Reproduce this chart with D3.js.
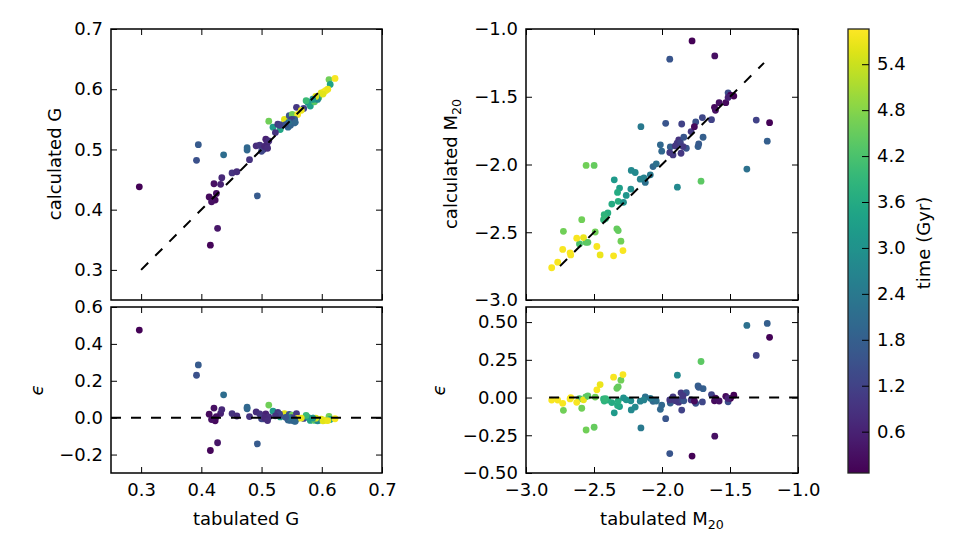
<!DOCTYPE html>
<html>
<head>
<meta charset="utf-8">
<script src="https://d3js.org/d3.v7.min.js"></script>
<style>
body { margin: 0; background: #fff; }
svg text { font-family: "DejaVu Sans", sans-serif; }
</style>
</head>
<body>
<svg id="chart" width="955" height="554"></svg>
<script>
// gini coefficient: tabulated, calculated, relative error, time (Gyr)
var gTab = [0.297,0.395,0.392,0.437,0.421,0.432,0.434,0.413,0.420,0.425,0.423,0.417,0.415,0.427,0.451,0.459,0.480,0.476,0.476,0.493,
  0.491,0.497,0.503,0.507,0.509,0.512,0.501,0.500,0.505,0.510,
  0.512,0.519,0.531,0.527,0.534,0.544,0.538,0.546,0.551,0.554,0.558,0.560,0.555,0.570,0.577,0.581,0.574,0.586,0.588,0.599,0.604,0.607,0.595,0.612,0.614,0.622,0.593,0.550,
  0.548,0.556,0.545,0.566,0.590,0.602,0.610,0.585,0.540,0.530,0.523];
var gCalc = [0.438,0.508,0.482,0.491,0.443,0.442,0.453,0.421,0.417,0.427,0.416,0.413,0.341,0.369,0.461,0.463,0.483,0.503,0.499,0.423,
  0.506,0.507,0.500,0.517,0.510,0.514,0.503,0.497,0.505,0.502,
  0.547,0.537,0.533,0.542,0.541,0.537,0.550,0.556,0.558,0.544,0.570,0.558,0.550,0.568,0.578,0.572,0.581,0.584,0.579,0.594,0.596,0.598,0.586,0.616,0.608,0.618,0.583,0.550,
  0.540,0.545,0.545,0.565,0.588,0.592,0.600,0.583,0.541,0.540,0.528];
var gEps = [0.475,0.286,0.230,0.124,0.052,0.023,0.044,0.019,-0.007,0.005,-0.017,-0.010,-0.178,-0.136,0.022,0.009,0.006,0.057,0.048,-0.142,
  0.031,0.020,-0.006,0.020,0.002,0.004,0.004,-0.006,0.000,-0.016,
  0.068,0.035,0.004,0.028,0.013,-0.013,0.022,0.018,0.013,-0.018,0.022,-0.004,-0.009,-0.004,0.002,-0.015,0.012,-0.003,-0.015,-0.008,-0.013,-0.015,-0.015,0.007,-0.010,-0.006,-0.017,0.000,
  -0.015,-0.020,0.000,-0.002,-0.003,-0.017,-0.016,-0.003,0.002,0.019,0.010];
var gTime = [0.1,1.7,1.5,2.1,0.3,0.6,0.7,0.2,0.2,0.3,0.2,0.3,0.15,0.4,0.9,0.8,0.9,2.0,2.0,1.7,
  0.8,0.9,1.0,0.6,0.7,0.8,0.9,1.3,0.7,0.8,
  4.6,3.2,3.5,1.0,1.4,2.0,5.6,1.6,4.6,2.0,1.0,5.8,1.8,1.2,3.0,3.4,4.0,2.2,4.4,5.6,5.7,5.8,4.4,4.6,3.4,5.8,2.8,1.1,
  1.9,2.0,2.2,5.7,5.5,5.6,5.7,3.2,1.6,1.2,0.9];

// M20: tabulated, calculated, relative error, time (Gyr)
var mTab = [-1.779,-1.612,-1.943,-1.209,-1.307,-1.226,-1.376,-2.155,-1.973,-1.855,
  -1.752,-1.703,-1.636,-1.698,-1.735,-1.730,-2.012,-2.002,-1.939,-1.943,
  -1.919,-1.877,-1.889,-1.865,-1.840,-1.860,-1.821,-1.786,-1.762,-1.845,
  -1.902,-1.614,-1.607,-1.580,-1.531,-1.514,-1.496,-1.472,-1.514,-2.066,
  -2.042,-2.086,-2.123,-2.160,-2.197,-2.226,-2.133,-1.887,-1.713,-2.351,
  -2.312,-2.229,-2.263,-2.327,-2.322,-2.283,-2.369,-2.398,-2.425,-2.430,
  -2.415,-2.558,-2.499,-2.590,-2.725,-2.491,-2.332,-2.322,-2.302,-2.560,
  -2.607,-2.627,-2.577,-2.545,-2.730,-2.676,-2.671,-2.767,-2.811,-2.479,
  -2.455,-2.356,-2.287];
var mCalc = [-1.088,-1.199,-1.223,-1.691,-1.672,-1.828,-2.034,-1.721,-1.696,-1.701,
  -1.686,-1.654,-1.669,-1.799,-1.868,-1.848,-1.855,-1.902,-1.870,-1.912,
  -1.929,-1.819,-1.843,-1.838,-1.799,-1.917,-1.880,-1.757,-1.721,-1.868,
  -1.863,-1.578,-1.600,-1.544,-1.544,-1.471,-1.488,-1.495,-1.505,-2.015,
  -1.995,-2.076,-2.132,-2.108,-2.059,-2.044,-2.098,-2.167,-2.123,-2.113,
  -2.174,-2.181,-2.228,-2.206,-2.272,-2.279,-2.292,-2.358,-2.370,-2.407,
  -2.398,-2.007,-2.007,-2.407,-2.493,-2.498,-2.475,-2.488,-2.566,-2.574,
  -2.586,-2.544,-2.539,-2.574,-2.627,-2.652,-2.667,-2.721,-2.762,-2.605,
  -2.667,-2.674,-2.635];
var mEps = [-0.388,-0.256,-0.371,0.399,0.279,0.491,0.478,-0.201,-0.140,-0.083,
  -0.038,-0.029,0.020,0.059,0.077,0.068,-0.078,-0.050,-0.036,-0.016,
  0.005,-0.031,-0.024,-0.014,-0.022,0.031,0.032,-0.016,-0.023,0.012,
  -0.021,-0.022,-0.004,-0.023,0.008,-0.028,-0.005,0.016,-0.006,-0.025,
  -0.023,-0.005,0.004,-0.024,-0.063,-0.082,-0.016,0.148,0.239,-0.101,
  -0.060,-0.022,-0.015,-0.052,-0.022,-0.002,-0.033,-0.017,-0.023,-0.009,
  -0.007,-0.215,-0.197,-0.071,-0.085,0.003,0.061,0.071,0.115,0.005,
  -0.008,-0.032,-0.015,0.011,-0.038,-0.009,-0.001,-0.017,-0.017,0.051,
  0.086,0.135,0.152];
var mTime = [0.1,0.3,1.6,0.1,1.2,1.8,2.2,2.4,1.6,1.2,
  1.5,1.3,1.2,1.8,1.8,1.7,2.0,2.0,1.8,1.0,
  1.0,0.9,1.0,1.2,1.6,1.0,1.6,1.0,0.2,1.0,
  1.0,0.2,0.3,0.3,0.2,1.4,0.1,0.1,0.6,2.0,
  2.2,2.4,2.2,2.6,2.8,2.8,2.6,2.8,4.4,3.2,
  3.3,2.9,3.1,3.6,3.7,3.0,3.6,3.7,3.8,3.8,
  3.9,4.6,4.5,4.6,4.6,4.6,4.5,4.5,4.6,4.4,
  4.2,5.8,5.7,4.4,5.8,5.8,5.8,5.8,5.8,5.8,
  5.7,5.8,5.8];

// ticks, ranges and reference lines
var gTicks = [0.3, 0.4, 0.5, 0.6, 0.7];
var gEpsTicks = [-0.2, 0.0, 0.2, 0.4, 0.6];
var mTicks = [-3.0, -2.5, -2.0, -1.5, -1.0];
var mEpsTicks = [-0.5, -0.25, 0.0, 0.25, 0.5];
var timeTicks = [0.6, 1.2, 1.8, 2.4, 3.0, 3.6, 4.2, 4.8, 5.4];
var timeRange = [0.06, 5.86];
var gDiag = [0.3, 0.6];
var mDiag = [-2.75, -1.25];
var gZero = [0.25, 0.7];
var mZero = [-2.83, -1.0];

var svg = d3.select("#chart");
var color = d3.scaleSequential(d3.interpolateViridis).domain(timeRange);
var noLabel = function() { return ""; };

function panel(o) {
  var x = d3.scaleLinear().domain(o.xDomain).range([o.left, o.right]);
  var y = d3.scaleLinear().domain(o.yDomain).range([o.bottom, o.top]);

  svg.append("clipPath").attr("id", o.id)
    .append("rect")
    .attr("x", o.left).attr("y", o.top)
    .attr("width", o.right - o.left).attr("height", o.bottom - o.top);

  var pts = o.xs.map(function(v, i) { return {x: v, y: o.ys[i], t: o.ts[i]}; });

  var g = svg.append("g").attr("clip-path", "url(#" + o.id + ")");
  g.selectAll("circle")
    .data(pts)
    .enter()
    .append("circle")
    .attr("cx", function(d) { return x(d.x); })
    .attr("cy", function(d) { return y(d.y); })
    .attr("r", 3.4)
    .attr("fill", function(d) { return color(d.t); });

  // dashed reference line
  g.append("line")
    .attr("x1", x(o.line[0][0])).attr("y1", y(o.line[0][1]))
    .attr("x2", x(o.line[1][0])).attr("y2", y(o.line[1][1]))
    .attr("stroke", "#000")
    .attr("stroke-width", 2)
    .attr("stroke-dasharray", "10,10");

  // axes, ticks pointing inwards on all four sides
  var axes = [
    [d3.axisBottom(x).tickValues(o.xTicks).tickFormat(o.showX ? d3.format(".1f") : noLabel).tickPadding(10), "translate(0," + o.bottom + ")"],
    [d3.axisTop(x).tickValues(o.xTicks).tickFormat(noLabel), "translate(0," + o.top + ")"],
    [d3.axisLeft(y).tickValues(o.yTicks).tickFormat(d3.format(o.yFmt)).tickPadding(8), "translate(" + o.left + ",0)"],
    [d3.axisRight(y).tickValues(o.yTicks).tickFormat(noLabel), "translate(" + o.right + ",0)"]
  ];
  axes.forEach(function(a) {
    var ax = svg.append("g")
      .attr("transform", a[1])
      .call(a[0].tickSize(-6));
    ax.select(".domain").remove();
    ax.selectAll("line").attr("stroke", "#000").attr("stroke-width", 1);
    ax.selectAll("text")
      .style("font-size", "18px")
      .style("font-family", "DejaVu Sans, sans-serif")
      .attr("fill", "#000");
  });

  svg.append("rect")
    .attr("x", o.left).attr("y", o.top)
    .attr("width", o.right - o.left).attr("height", o.bottom - o.top)
    .attr("fill", "none")
    .attr("stroke", "#000")
    .attr("stroke-width", 1.5);
}

panel({id: "c1", left: 111, right: 382, top: 29, bottom: 300,
  xDomain: [0.25, 0.7], yDomain: [0.25, 0.7], xTicks: gTicks, yTicks: gTicks, yFmt: ".1f", showX: false,
  xs: gTab, ys: gCalc, ts: gTime, line: [[gDiag[0], gDiag[0]], [gDiag[1], gDiag[1]]]});
panel({id: "c2", left: 111, right: 382, top: 307, bottom: 473,
  xDomain: [0.25, 0.7], yDomain: [-0.3, 0.6], xTicks: gTicks, yTicks: gEpsTicks, yFmt: ".1f", showX: true,
  xs: gTab, ys: gEps, ts: gTime, line: [[gZero[0], 0], [gZero[1], 0]]});
panel({id: "c3", left: 526, right: 798, top: 29, bottom: 300,
  xDomain: [-3, -1], yDomain: [-3, -1], xTicks: mTicks, yTicks: mTicks, yFmt: ".1f", showX: false,
  xs: mTab, ys: mCalc, ts: mTime, line: [[mDiag[0], mDiag[0]], [mDiag[1], mDiag[1]]]});
panel({id: "c4", left: 526, right: 798, top: 307, bottom: 473,
  xDomain: [-3, -1], yDomain: [-0.5, 0.6], xTicks: mTicks, yTicks: mEpsTicks, yFmt: ".2f", showX: true,
  xs: mTab, ys: mEps, ts: mTime, line: [[mZero[0], 0], [mZero[1], 0]]});

// axis labels
function label(x, y, rot, parts, italic) {
  var t = svg.append("text")
    .attr("transform", "translate(" + x + "," + y + ")" + (rot ? "rotate(" + rot + ")" : ""))
    .attr("text-anchor", "middle")
    .style("font-size", "18px")
    .style("font-style", italic ? "italic" : "normal")
    .attr("fill", "#000");
  parts.forEach(function(p) {
    var s = t.append("tspan").text(p[0]);
    if (p[1]) s.style("font-size", "12.6px").attr("dy", "0.3em");
  });
}
label(61, 164, -90, [["calculated G"]]);
label(43, 390, -90, [["\u03f5"]], true);
label(246, 525, 0, [["tabulated G"]]);
label(457, 164, -90, [["calculated M"], ["20", true]]);
label(445, 390, -90, [["\u03f5"]], true);
label(662, 525, 0, [["tabulated M"], ["20", true]]);
label(930, 243, -90, [["time (Gyr)"]]);

// colorbar
var cb = {left: 848, right: 869, top: 29, bottom: 473};
var grad = svg.append("defs").append("linearGradient")
  .attr("id", "viridis")
  .attr("x1", 0).attr("y1", 1).attr("x2", 0).attr("y2", 0);
d3.range(0, 41).forEach(function(i) {
  grad.append("stop")
    .attr("offset", i / 40)
    .attr("stop-color", color(timeRange[0] + (timeRange[1] - timeRange[0]) * i / 40));
});
svg.append("rect")
  .attr("x", cb.left).attr("y", cb.top)
  .attr("width", cb.right - cb.left).attr("height", cb.bottom - cb.top)
  .attr("fill", "url(#viridis)")
  .attr("stroke", "#222")
  .attr("stroke-width", 1.3);

var cy = d3.scaleLinear().domain(timeRange).range([cb.bottom, cb.top]);
var cax = svg.append("g")
  .attr("transform", "translate(" + cb.right + ",0)")
  .call(d3.axisRight(cy).tickValues(timeTicks).tickFormat(d3.format(".1f")).tickSize(-7).tickPadding(8));
cax.select(".domain").remove();
cax.selectAll("line").attr("stroke", "#000").attr("stroke-width", 1);
cax.selectAll("text")
  .style("font-size", "18px")
  .style("font-family", "DejaVu Sans, sans-serif")
  .attr("fill", "#000");
</script>
</body>
</html>
